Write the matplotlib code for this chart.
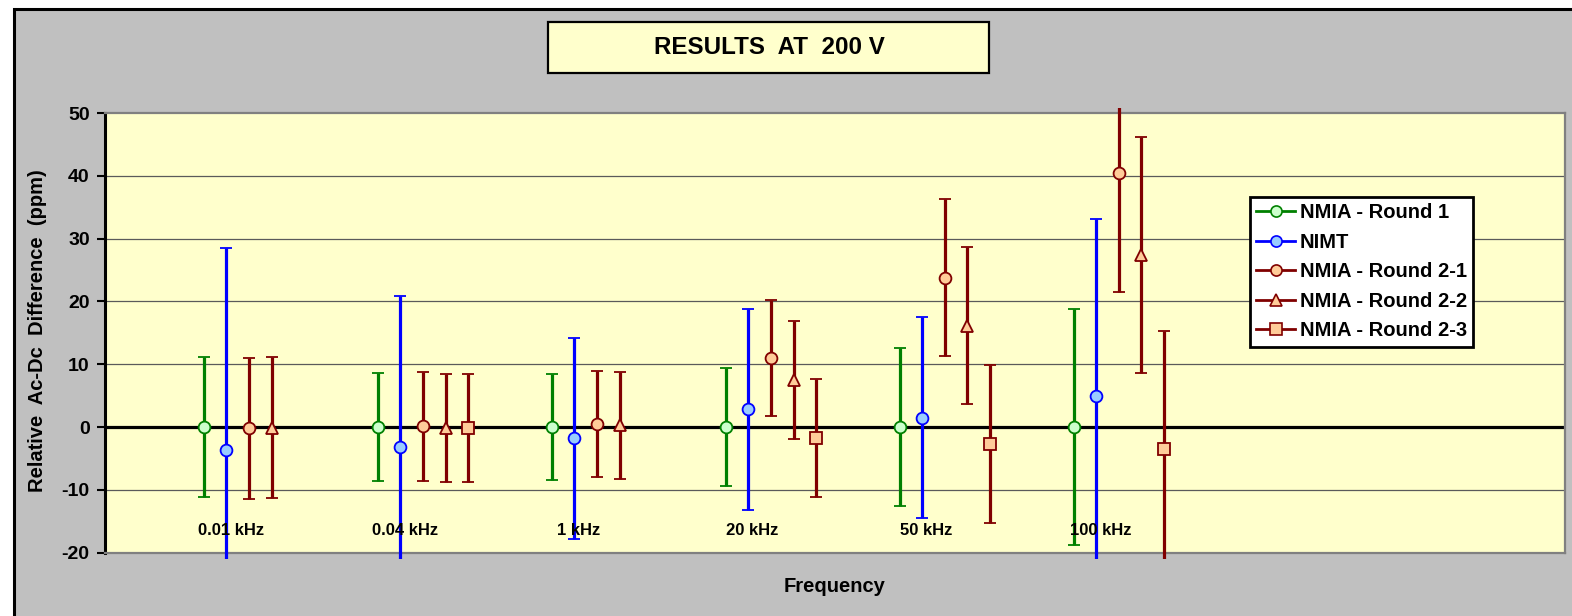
import numpy as np
import matplotlib
matplotlib.use("Agg")
import matplotlib.pyplot as plt
from matplotlib.lines import Line2D
from matplotlib.patches import Rectangle
from matplotlib.transforms import Bbox, TransformedBbox

plt.rcParams['font.family'] = ['Liberation Sans', 'DejaVu Sans']
plt.rcParams['font.weight'] = 'bold'
plt.rcParams['axes.unicode_minus'] = False

freq_labels = ['0.01 kHz', '0.04 kHz', '1 kHz', '20 kHz', '50 kHz', '100 kHz']

nmia_r1 = [0.0, 0.0, 0.0, 0.0, 0.0, 0.0]
nmia_r1_u = [11.1, 8.6, 8.5, 9.4, 12.6, 18.8]

nimt = [-3.7, -3.2, -1.8, 2.8, 1.45, 4.95]
nimt_u = [32.2, 24.1, 16.0, 16.05, 16.0, 28.1]

nmia_r21 = [-0.2, 0.1, 0.5, 11.0, 23.75, 40.4]
nmia_r21_u = [11.2, 8.65, 8.5, 9.3, 12.5, 18.9]

nmia_r22 = [-0.1, -0.15, 0.3, 7.5, 16.1, 27.4]
nmia_r22_u = [11.2, 8.65, 8.5, 9.4, 12.5, 18.85]

nmia_r23 = [np.nan, -0.15, np.nan, -1.7, -2.7, -3.5]
nmia_r23_u = [np.nan, 8.65, np.nan, 9.4, 12.55, 18.8]

series = [
    ('NMIA - Round 1', nmia_r1, nmia_r1_u, 'o', '#008000', '#ccffcc'),
    ('NIMT', nimt, nimt_u, 'o', '#0000ff', '#99ccff'),
    ('NMIA - Round 2-1', nmia_r21, nmia_r21_u, 'o', '#800000', '#ffcc99'),
    ('NMIA - Round 2-2', nmia_r22, nmia_r22_u, '^', '#800000', '#ffcc99'),
    ('NMIA - Round 2-3', nmia_r23, nmia_r23_u, 's', '#800000', '#ffcc99'),
]

fig = plt.figure(figsize=(15.72, 6.16), dpi=100)
fig.patch.set_facecolor('white')

# gray chart area with the black frame (right/bottom edges run off the page)
fig.patches.append(Rectangle((14 / 1572, -0.05), 1.1, 1 - 9 / 616 + 0.05,
                             transform=fig.transFigure, facecolor='#c0c0c0',
                             edgecolor='black', linewidth=2.2, zorder=-10))

ax = fig.add_axes([105 / 1572, 1 - 552.7 / 616, 1460 / 1572, 439.7 / 616])
ax.set_facecolor('#ffffcc')
ax.set_xlim(0.433, 8.824)
ax.set_ylim(-20, 50)

for y in [-10, 10, 20, 30, 40]:
    ax.axhline(y, color='#5a5a5a', lw=0.9, zorder=1)
ax.axhline(0, color='black', lw=2.3, zorder=1)

groups = np.arange(1, len(freq_labels) + 1)
step = 0.13
# slightly wider clip so long bars run a few pixels past the plot edge
clip = TransformedBbox(Bbox([[0, -0.015], [1, 1.012]]), ax.transAxes)

handles = []
for i, (name, vals, unc, mk, col, fill) in enumerate(series):
    x = groups + i * step
    eb = ax.errorbar(x, vals, yerr=unc, fmt=mk, color=col, ecolor=col,
                     elinewidth=2.3, capsize=4, capthick=2.1,
                     markersize=8.5 if mk != '^' else 9,
                     markerfacecolor=fill, markeredgecolor=col,
                     markeredgewidth=1.3, zorder=3)
    for bl in eb.lines[2]:
        bl.set_clip_box(clip)
    handles.append(Line2D([0], [0], color=col, lw=2.0, marker=mk,
                          markersize=8, markerfacecolor=fill,
                          markeredgecolor=col, markeredgewidth=1.2))

for g, lab in zip(groups, freq_labels):
    ax.text(g + 0.155, -16.4, lab, ha='center', va='center',
            fontsize=12, fontweight='bold', zorder=4)

ax.set_xticks([])
ax.set_yticks(np.arange(-20, 51, 10))
ax.tick_params(axis='y', direction='out', length=6, width=1.5,
               labelsize=14, pad=5, colors='black')
for lab in ax.get_yticklabels():
    lab.set_fontweight('bold')
ax.spines['left'].set_color('black')
ax.spines['left'].set_linewidth(2.2)
for s in ['top', 'right', 'bottom']:
    ax.spines[s].set_color('#808080')
    ax.spines[s].set_linewidth(1.6)

fig.text(38 / 1572, 1 - 331 / 616, 'Relative  Ac-Dc  Difference  (ppm)',
         rotation=90, ha='center', va='center', fontsize=14.5, fontweight='bold')
fig.text(835 / 1572, 1 - 587 / 616, 'Frequency', ha='center', va='center',
         fontsize=14.5, fontweight='bold')

# title box
fig.patches.append(Rectangle((548 / 1572, 1 - 73 / 616), 441 / 1572, 51 / 616,
                             transform=fig.transFigure, facecolor='#ffffcc',
                             edgecolor='black', linewidth=1.6, zorder=2))
fig.text(769 / 1572, 1 - 47.5 / 616, 'RESULTS  AT  200 V', ha='center',
         va='center', fontsize=17.4, fontweight='bold', zorder=3)

leg = ax.legend(handles, [s[0] for s in series], loc='upper left',
                bbox_to_anchor=(1250 / 1572, 1 - 197 / 616),
                bbox_transform=fig.transFigure, frameon=True,
                fancybox=False, framealpha=1, edgecolor='black',
                facecolor='white', borderaxespad=0, borderpad=0.32,
                handlelength=1.9, handletextpad=0.25, labelspacing=0.52,
                numpoints=1, prop={'weight': 'bold', 'size': 14.5})
leg.get_frame().set_linewidth(2.0)
leg.set_zorder(5)

fig.savefig('out.png', dpi=100, facecolor=fig.get_facecolor())
